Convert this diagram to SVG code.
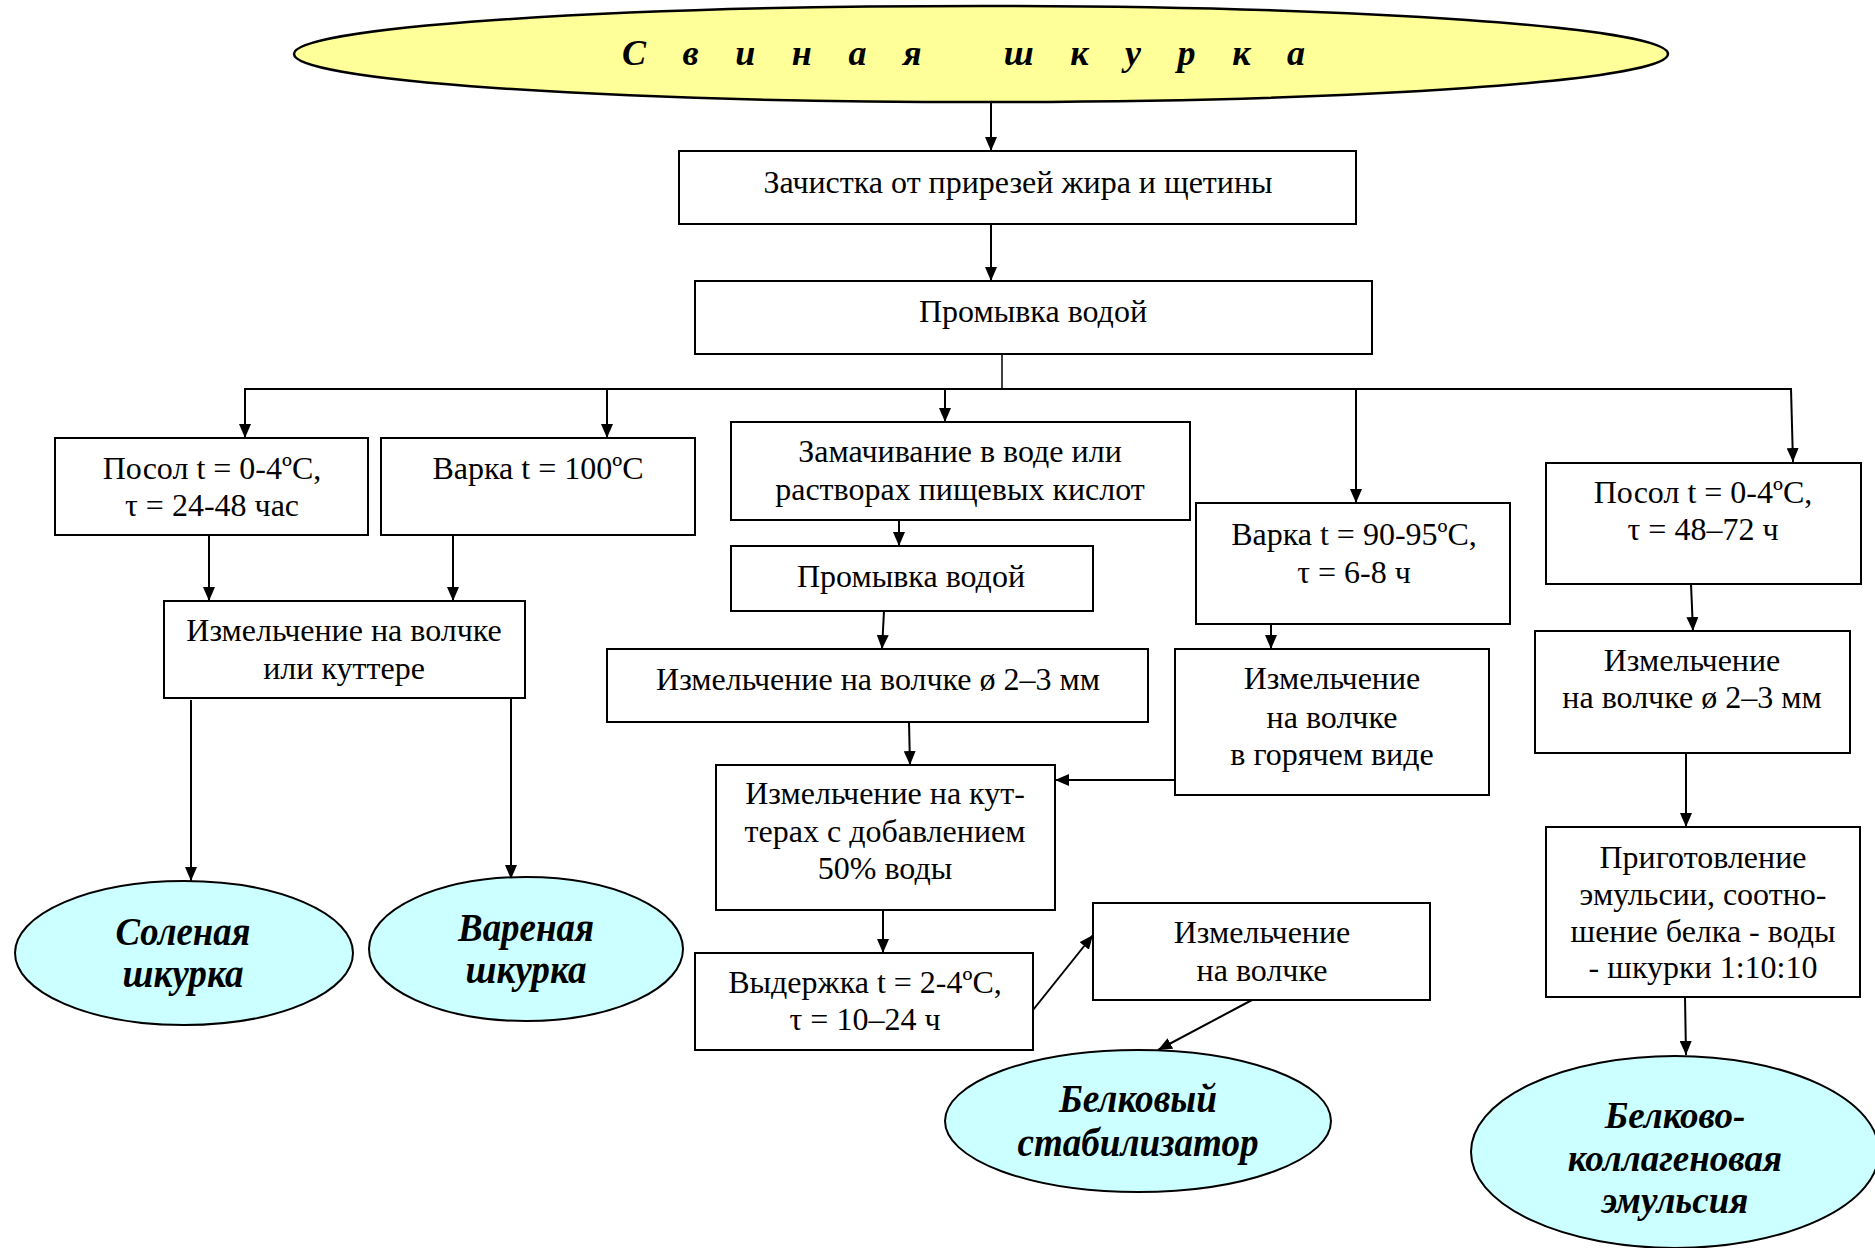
<svg xmlns="http://www.w3.org/2000/svg" width="1875" height="1248" viewBox="0 0 1875 1248">
<style>
.box{fill:#fff;stroke:#000;stroke-width:2}
.t{font-family:"Liberation Serif","Times New Roman",serif;font-size:32px;fill:#000;text-anchor:middle}
.tr{font-family:"Liberation Serif","Times New Roman",serif;font-size:32px;fill:#000;text-anchor:middle}
.el{fill:#CCFFFF;stroke:#000;stroke-width:2}
.et{font-family:"Liberation Serif","Times New Roman",serif;font-size:40px;font-weight:bold;font-style:italic;fill:#000;text-anchor:middle}
.c{stroke:#000;stroke-width:2;fill:none}
.ca{stroke:#000;stroke-width:2;fill:none;marker-end:url(#ah)}
</style>
<defs>
<marker id="ah" markerWidth="14" markerHeight="12" refX="14" refY="6" orient="auto" markerUnits="userSpaceOnUse"><path d="M0,0 L14,6 L0,12 z" fill="#000"/></marker>
</defs>
<rect width="1875" height="1248" fill="#fff"/>

<g id="connectors">
<line class="ca" x1="991" y1="103" x2="991" y2="151"/>
<line class="ca" x1="991" y1="224" x2="991" y2="281"/>
<line class="c" x1="1002" y1="354" x2="1002" y2="389" style="stroke-width:1.5"/>
<line class="c" x1="244" y1="389" x2="1792" y2="389"/>
<line class="ca" x1="245" y1="389" x2="245" y2="438"/>
<line class="ca" x1="607" y1="389" x2="607" y2="438"/>
<line class="ca" x1="945" y1="389" x2="945" y2="422"/>
<line class="ca" x1="1356" y1="389" x2="1356" y2="503"/>
<line class="ca" x1="1791" y1="389" x2="1793" y2="462"/>
<line class="ca" x1="209" y1="535" x2="209" y2="601"/>
<line class="ca" x1="453" y1="535" x2="453" y2="601"/>
<line class="ca" x1="191" y1="700" x2="191" y2="881"/>
<line class="ca" x1="511" y1="698" x2="511" y2="879"/>
<line class="ca" x1="899" y1="520" x2="899" y2="546"/>
<line class="ca" x1="884" y1="611" x2="882" y2="649"/>
<line class="ca" x1="909" y1="722" x2="910" y2="765"/>
<line class="ca" x1="1271" y1="624" x2="1271" y2="649"/>
<line class="ca" x1="1175" y1="780" x2="1055" y2="780"/>
<line class="ca" x1="883" y1="910" x2="883" y2="953"/>
<line class="ca" x1="1033" y1="1010" x2="1093" y2="935"/>
<line class="ca" x1="1252" y1="1000" x2="1158" y2="1050"/>
<line class="ca" x1="1691" y1="584" x2="1693" y2="631"/>
<line class="ca" x1="1686" y1="753" x2="1686" y2="827"/>
<line class="ca" x1="1685" y1="997" x2="1686" y2="1055"/>
</g>

<g id="n-title">
<ellipse cx="981" cy="54" rx="687" ry="48" fill="#FFFF99" stroke="#000" stroke-width="2.5"/>
<text x="622" y="65" style="white-space:pre;font-family:'Liberation Serif','Times New Roman',serif;font-size:36px;font-weight:bold;font-style:italic" textLength="683" lengthAdjust="spacing">С в и н а я   ш к у р к а</text>
</g>

<g id="n-cleaning">
<rect class="box" x="679" y="151" width="677" height="73"/>
<text class="t" x="1018" y="193">Зачистка от прирезей жира и щетины</text>
</g>

<g id="n-wash1">
<rect class="box" x="695" y="281" width="677" height="73"/>
<text class="t" x="1033" y="322">Промывка водой</text>
</g>

<g id="n-salt1">
<rect class="box" x="55" y="438" width="313" height="97"/>
<text class="t" x="212" y="479">Посол t = 0-4ºC,</text>
<text class="t" x="212" y="516">τ = 24-48 час</text>
</g>

<g id="n-boil100">
<rect class="box" x="381" y="438" width="314" height="97"/>
<text class="t" x="538" y="479">Варка t = 100ºC</text>
</g>

<g id="n-mince1">
<rect class="box" x="164" y="601" width="361" height="97"/>
<text class="t" x="344" y="641">Измельчение на волчке</text>
<text class="t" x="344" y="679">или куттере</text>
</g>

<g id="n-salted">
<ellipse class="el" cx="184" cy="953" rx="169" ry="72"/>
<text class="et" x="183" y="945" textLength="135" lengthAdjust="spacingAndGlyphs">Соленая</text>
<text class="et" x="183" y="987" textLength="121" lengthAdjust="spacingAndGlyphs">шкурка</text>
</g>

<g id="n-boiled">
<ellipse class="el" cx="526" cy="949" rx="157" ry="72"/>
<text class="et" x="526" y="941" textLength="136" lengthAdjust="spacingAndGlyphs">Вареная</text>
<text class="et" x="526" y="983" textLength="121" lengthAdjust="spacingAndGlyphs">шкурка</text>
</g>

<g id="n-soak">
<rect class="box" x="731" y="422" width="459" height="98"/>
<text class="t" x="960" y="462">Замачивание в воде или</text>
<text class="t" x="960" y="500">растворах пищевых кислот</text>
</g>

<g id="n-wash2">
<rect class="box" x="731" y="546" width="362" height="65"/>
<text class="t" x="911" y="587">Промывка водой</text>
</g>

<g id="n-mince2">
<rect class="box" x="607" y="649" width="541" height="73"/>
<text class="t" x="878" y="690">Измельчение на волчке ø 2–3 мм</text>
</g>

<g id="n-cutter">
<rect class="box" x="716" y="765" width="339" height="145"/>
<text class="tr" x="885" y="804">Измельчение на кут-</text>
<text class="tr" x="885" y="842">терах с добавлением</text>
<text class="tr" x="885" y="879">50% воды</text>
</g>

<g id="n-hold">
<rect class="box" x="695" y="953" width="338" height="97"/>
<text class="tr" x="865" y="993">Выдержка t = 2-4ºC,</text>
<text class="tr" x="865" y="1030">τ = 10–24 ч</text>
</g>

<g id="n-mince3">
<rect class="box" x="1093" y="903" width="337" height="97"/>
<text class="t" x="1262" y="943">Измельчение</text>
<text class="t" x="1262" y="981">на волчке</text>
</g>

<g id="n-stabilizer">
<ellipse class="el" cx="1138" cy="1121" rx="193" ry="71"/>
<text class="et" x="1138" y="1112" textLength="158" lengthAdjust="spacingAndGlyphs">Белковый</text>
<text class="et" x="1138" y="1156" textLength="241" lengthAdjust="spacingAndGlyphs">стабилизатор</text>
</g>

<g id="n-boil90">
<rect class="box" x="1196" y="503" width="314" height="121"/>
<text class="t" x="1354" y="545">Варка t = 90-95ºC,</text>
<text class="t" x="1354" y="583">τ = 6-8 ч</text>
</g>

<g id="n-hotmince">
<rect class="box" x="1175" y="649" width="314" height="146"/>
<text class="t" x="1332" y="689">Измельчение</text>
<text class="t" x="1332" y="728">на волчке</text>
<text class="t" x="1332" y="765">в горячем виде</text>
</g>

<g id="n-salt2">
<rect class="box" x="1546" y="463" width="315" height="121"/>
<text class="tr" x="1703" y="503">Посол t = 0-4ºC,</text>
<text class="tr" x="1703" y="540">τ = 48–72 ч</text>
</g>

<g id="n-mince4">
<rect class="box" x="1535" y="631" width="315" height="122"/>
<text class="tr" x="1692" y="671">Измельчение</text>
<text class="tr" x="1692" y="708">на волчке ø 2–3 мм</text>
</g>

<g id="n-emulsion-prep">
<rect class="box" x="1546" y="827" width="314" height="170"/>
<text class="tr" x="1703" y="868">Приготовление</text>
<text class="tr" x="1703" y="905">эмульсии, соотно-</text>
<text class="tr" x="1703" y="942">шение белка - воды</text>
<text class="tr" x="1703" y="978">- шкурки 1:10:10</text>
</g>

<g id="n-emulsion">
<ellipse class="el" cx="1675" cy="1152" rx="204" ry="96"/>
<text class="et" x="1675" y="1128" style="font-size:37px">Белково-</text>
<text class="et" x="1675" y="1171" style="font-size:37px">коллагеновая</text>
<text class="et" x="1675" y="1213" style="font-size:37px">эмульсия</text>
</g>
</svg>
